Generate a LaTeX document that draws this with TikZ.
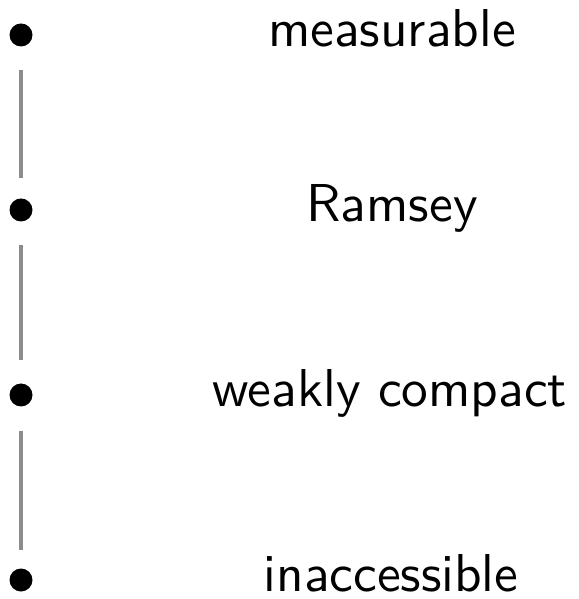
\documentclass[tikz,border=0pt]{standalone}
\begin{document}
\begin{tikzpicture}[x=0.1875pt,y=-0.1875pt,
  dot/.style={circle,fill=black,inner sep=0pt,minimum size=23*0.1875pt},
  rung/.style={draw=black!45,line width=4*0.1875pt},
  cardinal/.style={font=\sffamily\fontsize{10}{12}\selectfont,anchor=mid,inner sep=0pt}]
  \useasboundingbox (0,0) rectangle (578,599);
  % large-cardinal ladder: dots on the left, names to the right
  \node[dot] (d1) at (21,35) {};
  \node[dot] (d2) at (21,210) {};
  \node[dot] (d3) at (21,395) {};
  \node[dot] (d4) at (21,580) {};
  \node[cardinal] (l1) at (392,35) {measurable};
  \node[cardinal] (l2) at (392,210) {Ramsey};
  \node[cardinal] (l3) at (390,395) {weakly compact};
  \node[cardinal] (l4) at (391,580) {inaccessible};
  % grey links between consecutive dots, leaving a gap at each end
  \draw[rung] ([yshift=-35*0.1875pt]d1.center) -- ([yshift=32*0.1875pt]d2.center);
  \draw[rung] ([yshift=-35*0.1875pt]d2.center) -- ([yshift=35*0.1875pt]d3.center);
  \draw[rung] ([yshift=-36*0.1875pt]d3.center) -- ([yshift=30*0.1875pt]d4.center);
\end{tikzpicture}
\end{document}
